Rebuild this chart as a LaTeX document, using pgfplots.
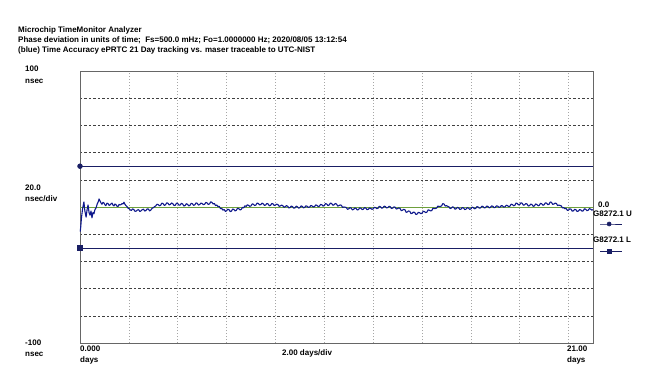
\documentclass[border=0pt]{standalone}
\usepackage{fontspec}
\setmainfont{Liberation Sans}
\usepackage{pgfplots}
\pgfplotsset{compat=1.18}
\definecolor{trace}{RGB}{15,25,140}
\definecolor{limit}{RGB}{25,30,100}
\definecolor{zgreen}{RGB}{110,160,60}
\newcommand{\lab}{\fontsize{8bp}{9bp}\selectfont\bfseries}
\begin{document}
\begin{tikzpicture}[x=1bp,y=1bp]
\useasboundingbox[fill=white] (0,0) rectangle (646,379);
\begin{axis}[
  at={(80bp,36bp)}, anchor=south west,
  width=513bp, height=272bp, scale only axis,
  xmin=0, xmax=21, ymin=-100, ymax=100,
  xtick={2,4,...,20}, ytick={-80,-60,-40,-20,20,40,60,80},
  xticklabels={}, yticklabels={},
  major tick length=0pt,
  xmajorgrids, ymajorgrids,
  x grid style={gray!70, line width=0.6pt, dash pattern=on 1pt off 2pt},
  y grid style={black!75, line width=0.5pt, dash pattern=on 2.5pt off 2pt},
  axis line style={gray!80!black, line width=0.8pt},
  clip=false,
]
\addplot[zgreen, line width=0.5pt] coordinates {(0,0) (21,0)};
\addplot[limit, line width=0.6pt, mark=*, mark size=2.4pt, mark indices={1}] coordinates {(0,30) (21,30)};
\addplot[limit, line width=0.6pt, mark=square*, mark size=2.4pt, mark indices={1}] coordinates {(0,-30) (21,-30)};
\addplot[limit, line width=0.6pt, mark=*, mark size=2pt, mark indices={2}] coordinates {(21.29,-12.5) (21.66,-12.5) (22.19,-12.5)};
\addplot[limit, line width=0.6pt, mark=square*, mark size=2pt, mark indices={2}] coordinates {(21.29,-32.3) (21.66,-32.3) (22.19,-32.3)};
\addplot[trace, line width=1.1pt, line join=round] coordinates {
(0.01,-18) (0.03,-14.7) (0.06,-8) (0.10,-2) (0.13,1) (0.16,3.7) (0.20,-3) (0.25,-7.4) (0.29,-2) (0.33,1.5)
(0.37,-4) (0.41,-6) (0.45,-3) (0.49,-8) (0.53,-4) (0.57,-5) (0.61,-2) (0.66,-0.5) (0.70,2) (0.74,3.5) (0.78,5.9)
(0.82,4.5) (0.86,3) (0.90,2) (0.94,3.4) (0.98,3) (1.02,1.6) (1.06,1) (1.10,2.8) (1.15,2.5) (1.19,1.2) (1.23,1.5)
(1.27,2.4) (1.31,2.8) (1.35,1.4) (1.39,0.8) (1.43,2.2) (1.47,1.8) (1.51,0.6) (1.56,0.5) (1.60,1.9) (1.64,1.5)
(1.68,1.8) (1.72,2.5) (1.76,2.2) (1.80,3.5) (1.84,2.0) (1.88,1) (1.93,0.2) (1.97,-1)
(2.0,-1.0) (2.05,-2.0) (2.1,-2.6) (2.15,-1.4) (2.2,-1.8) (2.25,-3.2) (2.3,-3.0) (2.35,-2.2) (2.4,-2.0) (2.45,-3.3) (2.5,-2.8) (2.55,-1.9) (2.6,-1.6) (2.65,-3.0) (2.7,-2.5) (2.75,-1.4) (2.8,-1.5) (2.85,-2.9) (2.9,-2.2) (2.95,-1.0)
(3.0,-0.5) (3.05,0.2) (3.1,0.8) (3.15,2.0) (3.2,1.8) (3.25,0.9) (3.3,1.2) (3.35,2.9) (3.4,2.5) (3.45,1.2) (3.5,1.6) (3.55,3.1) (3.6,2.8) (3.65,1.5) (3.7,1.9) (3.75,3.0) (3.8,2.4) (3.85,1.1) (3.9,1.3) (3.95,2.8)
(4.0,2.6) (4.05,1.3) (4.1,1.5) (4.15,2.7) (4.2,2.2) (4.25,0.8) (4.3,1.0) (4.35,2.4) (4.4,2.0) (4.45,0.9) (4.5,1.2) (4.55,2.7) (4.6,2.4) (4.65,1.2) (4.7,1.6) (4.75,3.0) (4.8,2.7) (4.85,1.4) (4.9,1.8) (4.95,2.9)
(5.0,2.6) (5.05,1.7) (5.1,2.0) (5.15,3.3) (5.2,3.0) (5.25,1.9) (5.3,2.2) (5.35,3.8) (5.4,3.4) (5.45,2.2) (5.5,2.6) (5.55,1.0) (5.6,1.5) (5.65,0.2) (5.7,0.5) (5.75,-1.2) (5.8,-1.0) (5.85,-2.3) (5.9,-1.8) (5.95,-3.2)
(6.0,-2.8) (6.05,-1.6) (6.1,-2.0) (6.15,-3.4) (6.2,-3.0) (6.25,-1.5) (6.3,-1.8) (6.35,-2.9) (6.4,-2.4) (6.45,-0.9) (6.5,-1.2) (6.55,-2.2) (6.6,-1.8) (6.65,-0.3) (6.7,-0.6) (6.75,0.9) (6.8,0.4) (6.85,1.6) (6.9,1.2) (6.95,0.5)
(7.0,0.8) (7.05,2.3) (7.1,2.0) (7.15,1.1) (7.2,1.4) (7.25,2.9) (7.3,2.6) (7.35,1.5) (7.4,1.8) (7.45,2.8) (7.5,2.4) (7.55,1.2) (7.6,1.5) (7.65,2.6) (7.7,2.2) (7.75,0.9) (7.8,1.2) (7.85,2.6) (7.9,2.3) (7.95,1.1)
(8.0,1.4) (8.05,2.1) (8.1,1.8) (8.15,0.5) (8.2,0.8) (8.25,1.4) (8.3,1.0) (8.35,-0.2) (8.4,0.2) (8.45,1.0) (8.5,0.6) (8.55,-0.7) (8.6,-0.4) (8.65,0.7) (8.7,0.3) (8.75,-0.9) (8.8,-0.6) (8.85,0.6) (8.9,0.2) (8.95,-0.8)
(9.0,-0.5) (9.05,0.8) (9.1,0.4) (9.15,-0.6) (9.2,-0.3) (9.25,0.9) (9.3,0.5) (9.35,-0.3) (9.4,0.0) (9.45,1.1) (9.5,0.8) (9.55,0.0) (9.6,0.3) (9.65,1.5) (9.7,1.2) (9.75,0.3) (9.8,0.6) (9.85,1.9) (9.9,1.6) (9.95,0.7)
(10.0,1.0) (10.05,2.5) (10.1,2.2) (10.15,1.1) (10.2,1.4) (10.25,2.9) (10.3,2.6) (10.35,1.3) (10.4,1.6) (10.45,2.6) (10.5,2.2) (10.55,0.7) (10.6,1.0) (10.65,1.5) (10.7,1.2) (10.75,-0.3) (10.8,0.0) (10.85,-0.1) (10.9,-0.4) (10.95,-1.7)
(11.0,-1.4) (11.05,-0.5) (11.1,-0.8) (11.15,-2.1) (11.2,-1.8) (11.25,-0.7) (11.3,-1.0) (11.35,-2.2) (11.4,-1.9) (11.45,-0.6) (11.5,-0.9) (11.55,-1.9) (11.6,-1.6) (11.65,-0.5) (11.7,-0.8) (11.75,-2.0) (11.8,-1.7) (11.85,-0.7) (11.9,-1.0) (11.95,-1.7)
(12.0,-1.4) (12.05,-0.2) (12.1,-0.5) (12.15,-1.2) (12.2,-0.9) (12.25,0.5) (12.3,0.2) (12.35,-0.9) (12.4,-0.6) (12.45,0.6) (12.5,0.3) (12.55,-0.7) (12.6,-0.4) (12.65,0.5) (12.7,0.2) (12.75,-1.1) (12.8,-0.8) (12.85,0.1) (12.9,-0.2) (12.95,-1.5)
(13.0,-1.2) (13.05,-0.7) (13.1,-1.0) (13.15,-2.7) (13.2,-2.4) (13.25,-1.7) (13.3,-2.0) (13.35,-3.9) (13.4,-3.6) (13.45,-2.9) (13.5,-3.2) (13.55,-4.9) (13.6,-4.6) (13.65,-3.7) (13.7,-4.0) (13.75,-5.5) (13.8,-5.2) (13.85,-3.9) (13.9,-4.2) (13.95,-4.9)
(14.0,-4.6) (14.05,-3.1) (14.1,-3.4) (14.15,-4.1) (14.2,-3.8) (14.25,-2.1) (14.3,-2.4) (14.35,-2.9) (14.4,-2.6) (14.45,-0.9) (14.5,-1.2) (14.55,-1.1) (14.6,-0.8) (14.65,0.7) (14.7,0.4) (14.75,0.5) (14.8,0.8) (14.85,2.5) (14.9,2.2) (14.95,0.7)
(15.0,1.0) (15.05,0.5) (15.1,0.2) (15.15,-1.1) (15.2,-0.8) (15.25,0.1) (15.3,-0.2) (15.35,-1.6) (15.4,-1.3) (15.45,-0.3) (15.5,-0.6) (15.55,-1.8) (15.6,-1.5) (15.65,-0.4) (15.7,-0.7) (15.75,-1.9) (15.8,-1.6) (15.85,-0.5) (15.9,-0.8) (15.95,-1.7)
(16.0,-1.4) (16.05,-0.1) (16.1,-0.4) (16.15,-1.3) (16.2,-1.0) (16.25,0.3) (16.3,0.0) (16.35,-0.9) (16.4,-0.6) (16.45,0.6) (16.5,0.3) (16.55,-0.7) (16.6,-0.4) (16.65,0.7) (16.7,0.4) (16.75,-0.6) (16.8,-0.3) (16.85,0.8) (16.9,0.5) (16.95,-0.5)
(17.0,-0.2) (17.05,0.9) (17.1,0.6) (17.15,-0.3) (17.2,0.0) (17.25,1.1) (17.3,0.8) (17.35,-0.1) (17.4,0.2) (17.45,1.3) (17.5,1.0) (17.55,0.3) (17.6,0.6) (17.65,2.1) (17.7,1.8) (17.75,0.9) (17.8,1.2) (17.85,2.9) (17.9,2.6) (17.95,1.5)
(18.0,1.8) (18.05,3.1) (18.1,2.8) (18.15,1.3) (18.2,1.6) (18.25,2.5) (18.3,2.2) (18.35,0.7) (18.4,1.0) (18.45,2.1) (18.5,1.8) (18.55,0.5) (18.6,0.8) (18.65,2.2) (18.7,1.9) (18.75,0.9) (18.8,1.2) (18.85,2.7) (18.9,2.4) (18.95,1.3)
(19.0,1.6) (19.05,3.1) (19.1,2.8) (19.15,1.7) (19.2,2.0) (19.25,3.7) (19.3,3.4) (19.35,1.9) (19.4,2.2) (19.45,2.9) (19.5,2.6) (19.55,1.1) (19.6,1.4) (19.65,1.1) (19.7,0.8) (19.75,-0.7) (19.8,-0.4) (19.85,-1.3) (19.9,-1.0) (19.95,-2.5)
(20.0,-2.2) (20.05,-1.3) (20.1,-1.6) (20.15,-3.1) (20.2,-2.8) (20.25,-1.7) (20.3,-2.0) (20.35,-3.3) (20.4,-3.0) (20.45,-1.9) (20.5,-2.2) (20.55,-3.1) (20.6,-2.8) (20.65,-1.3) (20.7,-1.6) (20.75,-2.7) (20.8,-2.4) (20.85,-1.2) (20.9,-1.5) (20.95,-2.3) (21.0,-2.0)
};
\end{axis}
% header
\node[anchor=base west, inner sep=0pt] at (18,347) {\lab Microchip TimeMonitor Analyzer};
\node[anchor=base west, inner sep=0pt] at (18,337) {\lab Phase deviation in units of time;\ \ Fs=500.0 mHz; Fo=1.0000000 Hz; 2020/08/05 13:12:54};
\node[anchor=base west, inner sep=0pt] at (18,327) {\lab (blue) Time Accuracy ePRTC 21 Day tracking vs. maser traceable to UTC-NIST};
% y labels
\node[anchor=base west, inner sep=0pt] at (25,308) {\lab 100};
\node[anchor=base west, inner sep=0pt] at (25,296) {\lab nsec};
\node[anchor=base west, inner sep=0pt] at (25,189) {\lab 20.0};
\node[anchor=base west, inner sep=0pt] at (25,178) {\lab nsec/div};
\node[anchor=base west, inner sep=0pt] at (25,34) {\lab -100};
\node[anchor=base west, inner sep=0pt] at (25,23) {\lab nsec};
% x labels
\node[anchor=base west, inner sep=0pt] at (80,28) {\lab 0.000};
\node[anchor=base west, inner sep=0pt] at (80,17) {\lab days};
\node[anchor=base west, inner sep=0pt] at (282,24) {\lab 2.00 days/div};
\node[anchor=base west, inner sep=0pt] at (567,28) {\lab 21.00};
\node[anchor=base west, inner sep=0pt] at (567,17) {\lab days};
% right labels
\node[anchor=base west, inner sep=0pt] at (598,172) {\lab 0.0};
\node[anchor=base west, inner sep=0pt] at (593,163) {\lab G8272.1 U};
\node[anchor=base west, inner sep=0pt] at (593,137) {\lab G8272.1 L};
\end{tikzpicture}
\end{document}
